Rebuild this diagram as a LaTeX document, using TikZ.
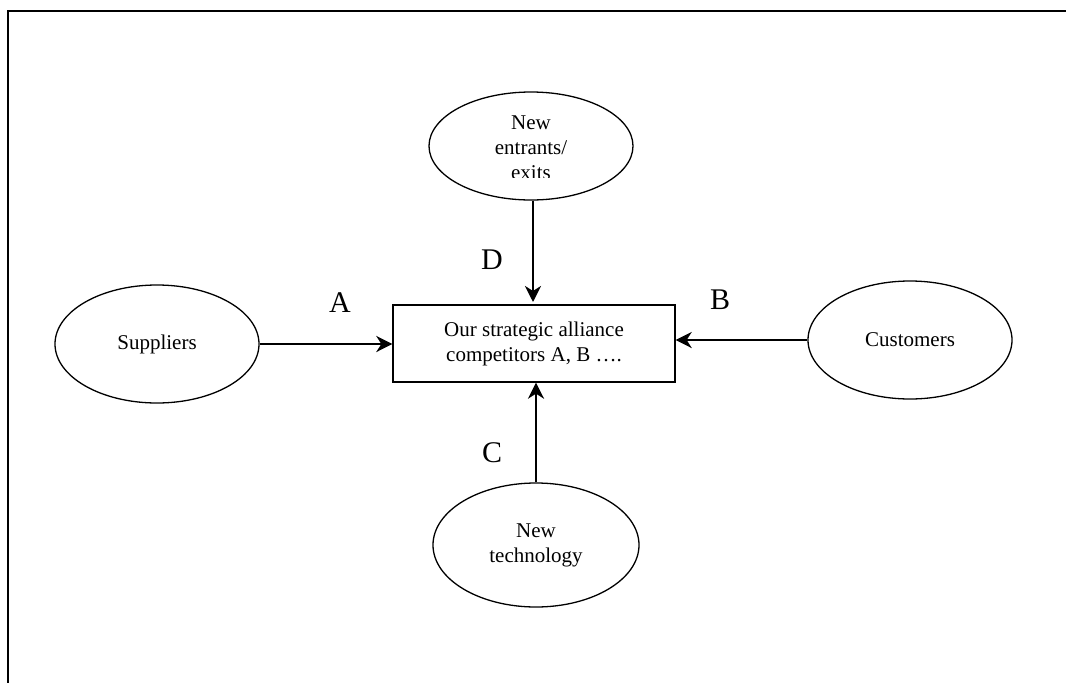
\documentclass[tikz,border=0pt]{standalone}
\usepackage{fontspec}
\setmainfont{Liberation Serif}
\usetikzlibrary{shapes.geometric,arrows.meta}
\begin{document}
\begin{tikzpicture}[x=1pt,y=-1pt,
  force/.style={draw,ellipse,line width=1.3pt,minimum width=204pt,minimum height=118pt,inner sep=0pt,
    font=\fontsize{21}{25}\selectfont,align=center},
  firmbox/.style={draw,rectangle,line width=1.3pt,minimum width=282pt,minimum height=77pt,inner sep=0pt,
    font=\fontsize{21}{25}\selectfont,align=center},
  lbl/.style={font=\fontsize{30}{36}\selectfont,inner sep=0pt},
  arr/.style={line width=2.8pt,-{Stealth[length=16pt,width=16pt,inset=5pt]}},
  frame/.style={line width=2.5pt}]
\useasboundingbox (0,0) rectangle (1066,683);
% outer frame (top and left edges)
\draw[frame] (1066,11) -- (8,11) -- (8,683);

% centre box
\node[firmbox] (firm) at (534,343.5) {Our strategic alliance\\competitors A, B \dots.};

% surrounding forces
\node[force] (sup) at (157,344) {Suppliers};
\node[force] (cus) at (910,340) {Customers};
\node[force,minimum width=206pt,minimum height=124pt] (tech) at (536,545) {New\\technology};
\node[force,minimum height=108pt] (ent) at (531,146) {};
\begin{scope}
  \clip (420,100) rectangle (640,177);
  \node[font=\fontsize{21}{25}\selectfont,align=center,anchor=north] (enttext) at (531,112) {New\\entrants/\\exits};
\end{scope}

% connectors
\draw[arr] (ent.south -| 533,0) -- (533,302);
\draw[arr] (sup.east) -- (sup.east -| firm.west);
\draw[arr] (cus.west) -- (cus.west -| firm.east);
\draw[arr] (tech.north) -- (tech.north |- firm.south);

% labels
\node[lbl] (la) at (340,303) {A};
\node[lbl] (lb) at (720,300) {B};
\node[lbl] (lc) at (492,453) {C};
\node[lbl] (ld) at (492,260) {D};
\end{tikzpicture}
\end{document}
